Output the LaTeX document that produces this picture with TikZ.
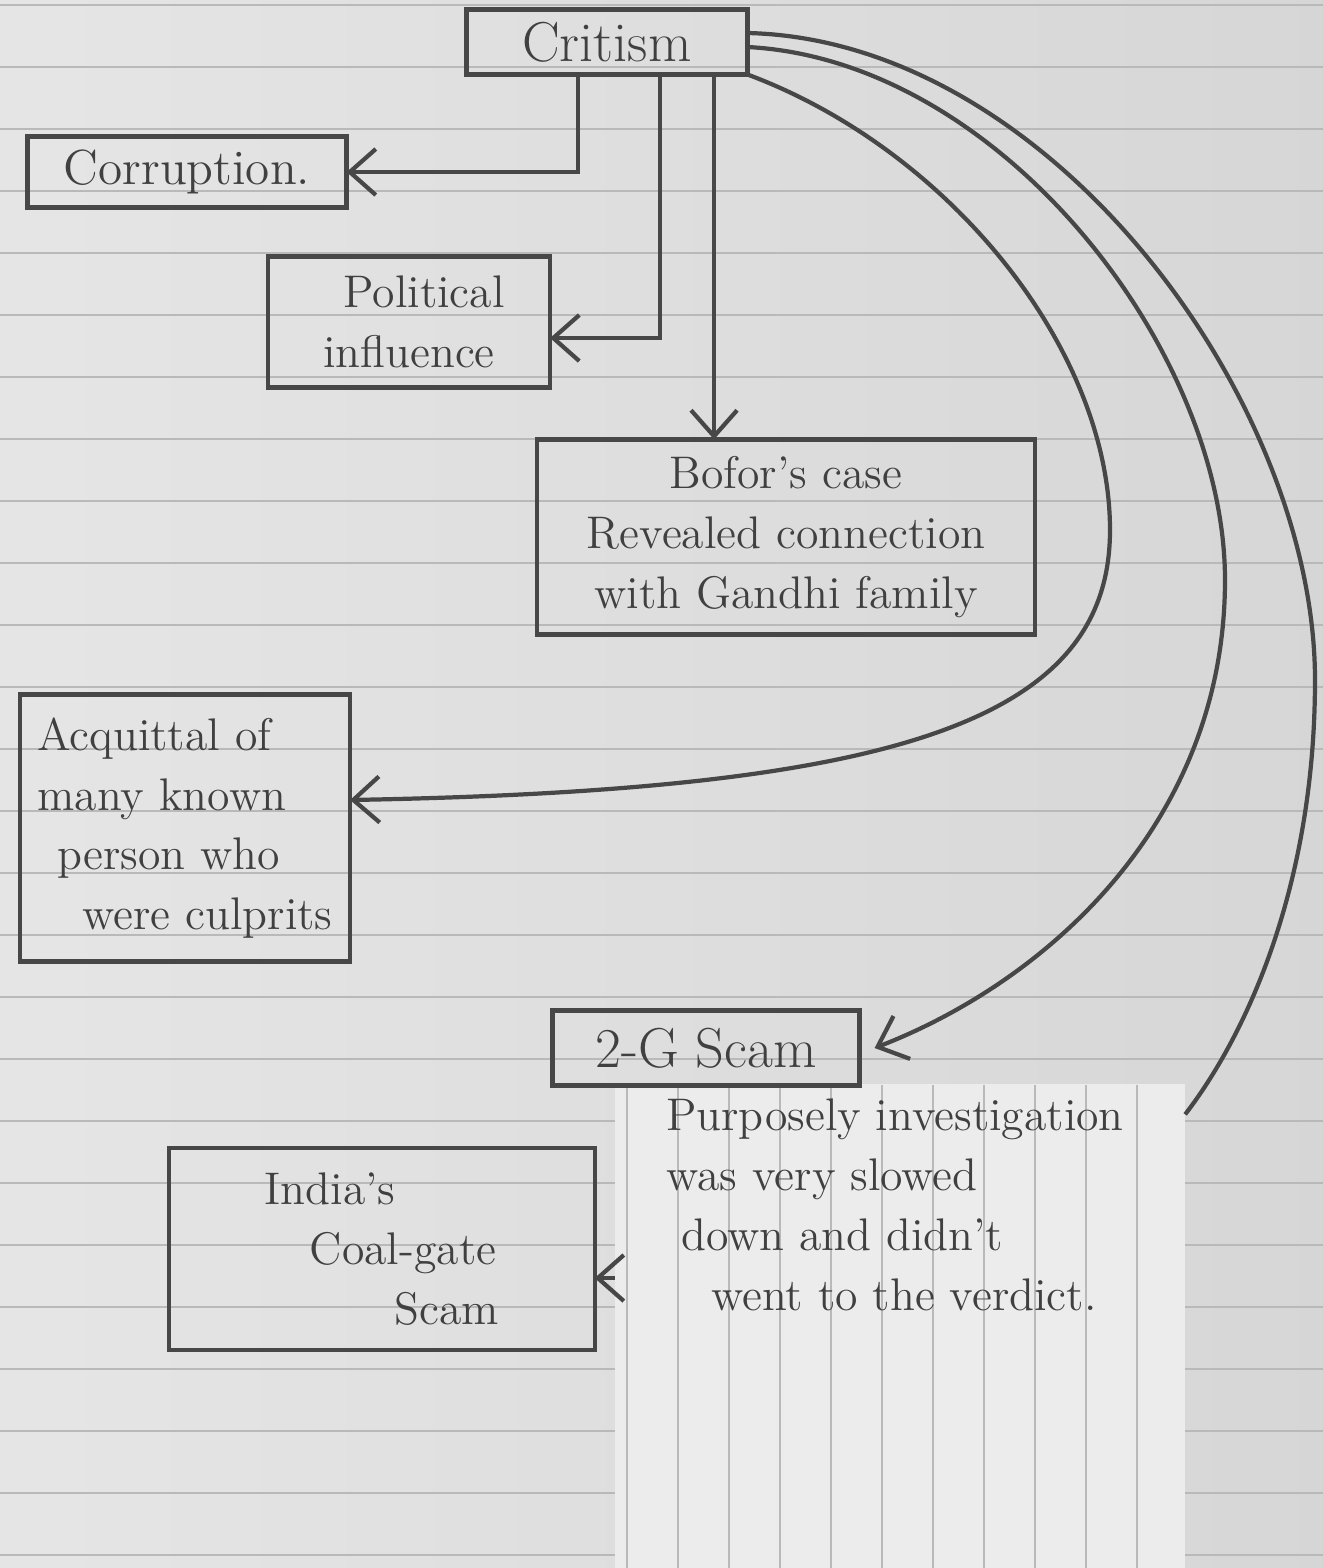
\documentclass[tikz,border=0pt]{standalone}
\usetikzlibrary{arrows.meta}

\tikzset{
  ink/.style={draw=black!72,line width=1.2pt},
  box/.style={ink,minimum width=#1,outer sep=0pt,inner sep=2pt,align=center,text=black!75},
  rule/.style={draw=gray!55,line width=0.5pt},
  hand/.style={font=\fontsize{13}{17}\selectfont},
  handbig/.style={font=\fontsize{16}{18}\selectfont}
}

\begin{document}
\begin{tikzpicture}[x=0.01cm,y=-0.01cm,>={Straight Barb[length=2.6mm,width=4.6mm]}]
	% paper and ruling
	\useasboundingbox (0,0) rectangle (1323,1568);
	\shade[left color=gray!20,right color=gray!32] (0,0) rectangle (1323,1568);
	\foreach \y in {5,67,...,1567}
		\draw[rule] (0,\y) -- (1323,\y);

	% stuck-on note
	\node [minimum width=5.7cm,minimum height=4.83cm,outer sep=0pt,fill=gray!15] at (900,1326) (note) {};
	\foreach \x in {627,678,...,1140}
		\draw[rule] (\x,1085) -- (\x,1568);

	\node [box=2.81cm,minimum height=.65cm,handbig] at (607,42) (crit) {Critism};
	\node [box=3.19cm,minimum height=.71cm,font=\fontsize{14}{17}\selectfont] at (187,172) (corr) {Corruption.};
	\node [box=2.82cm,minimum height=1.31cm,hand] at (409,322) (pol_inf) {\hspace*{0.3cm}Political\\influence};
	\node [box=4.98cm,minimum height=1.95cm,hand] at (786,537) (bofors) {Bofor's case\\Revealed connection\\with Gandhi family};
	\node [box=3.3cm,minimum height=2.67cm,hand,align=left] at (185,828) (acq) {Acquittal of\\many known\\\hspace*{0.2cm}person who\\\hspace*{0.45cm}were culprits};
	\node [box=3.07cm,minimum height=.75cm,handbig] at (706,1048) (scam_2g) {2-G Scam};
	\node [box=4.25cm,minimum height=2.02cm,hand,align=left] at (382,1249) (scam_coal) {India's\\\hspace*{0.45cm}Coal-gate\\\hspace*{1.3cm}Scam};
	\node [hand,align=left,text=black!75] at (895,1205) (note_txt) {Purposely investigation\\was very slowed\\\hspace*{0.15cm}down and didn't\\\hspace*{0.45cm}went to the verdict.};

	% connectors from Critism
	\draw[ink,->] ([xshift=-0.29cm]crit.south) |- (corr.east);
	\draw[ink,->] ([xshift=0.53cm]crit.south) |- ([yshift=-0.16cm]pol_inf.east);
	\draw[ink,->] ([xshift=1.07cm]crit.south) -- ([xshift=1.07cm]crit.south|-bofors.north);

	\draw[ink,->] (crit.south east) .. controls (950,150) and (1110,350) .. (1110,530)
		.. controls (1110,720) and (900,790) .. ([yshift=0.28cm]acq.east);
	\draw[ink,->] ([yshift=-0.05cm]crit.east) .. controls (1000,60) and (1225,350) .. (1225,580)
		.. controls (1225,820) and (1050,980) .. ([xshift=0.15cm]scam_2g.east);
	\draw[ink] ([yshift=0.09cm]crit.east) .. controls (1050,40) and (1315,400) .. (1315,680)
		.. controls (1315,880) and (1250,1030) .. ([yshift=-0.3cm]note.north east);

	% from the note to the coal scam
	\coordinate (coal_in) at ([yshift=-0.29cm]scam_coal.east);
	\draw[ink,->] (note.west|-coal_in) -- (coal_in);
\end{tikzpicture}
\end{document}
